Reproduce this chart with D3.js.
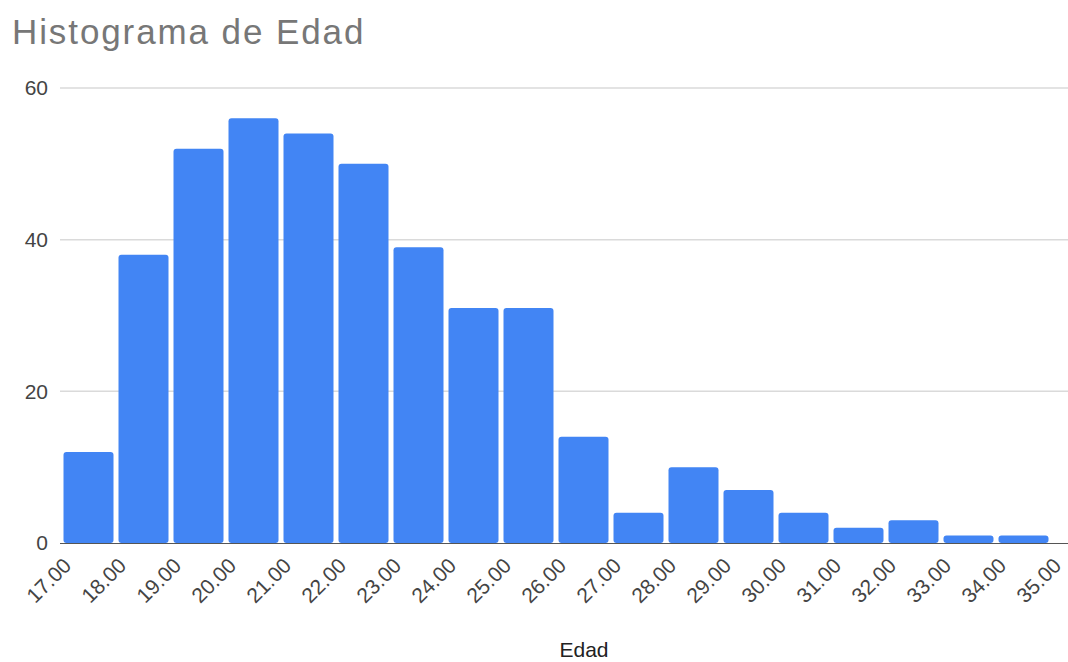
<!DOCTYPE html>
<html>
<head>
<meta charset="utf-8">
<script src="https://cdn.jsdelivr.net/npm/d3@7"></script>
<style>
  html, body { margin: 0; padding: 0; background: #fff; }
  svg { display: block; font-family: "Liberation Sans", Arial, sans-serif; }
</style>
</head>
<body>
<svg id="chart" width="1068" height="662"></svg>
<script>
// Age histogram: bin start (years) and count per bin
const binStarts = [17, 18, 19, 20, 21, 22, 23, 24, 25, 26, 27, 28, 29, 30, 31, 32, 33, 34, 35];
const counts    = [12, 38, 52, 56, 54, 50, 39, 31, 31, 14, 4, 10, 7, 4, 2, 3, 1, 1, 0];
const xTickValues = [17, 18, 19, 20, 21, 22, 23, 24, 25, 26, 27, 28, 29, 30, 31, 32, 33, 34, 35, 36];
const yTickValues = [0, 20, 40, 60];
const binWidth = 1;

const svg = d3.select("#chart");
const W = 1068, H = 662;

const x = d3.scaleLinear().domain([17, 36]).range([63, 1108]);
const y = d3.scaleLinear().domain([0, 60]).range([543, 88]);

// Title
svg.append("text")
  .attr("x", 12).attr("y", 44)
  .attr("font-size", 35)
  .attr("letter-spacing", 1.9)
  .attr("fill", "#777")
  .text("Histograma de Edad");

// Horizontal gridlines
svg.append("g")
  .selectAll("line")
  .data(yTickValues.filter(v => v > 0))
  .join("line")
  .attr("x1", 60).attr("x2", W)
  .attr("y1", d => y(d)).attr("y2", d => y(d))
  .attr("stroke", "#dadada")
  .attr("stroke-width", 1.5);

// Y axis labels
const yAxis = d3.axisLeft(y).tickValues(yTickValues).tickSize(0).tickPadding(12).tickFormat(d3.format("d"));
const gy = svg.append("g").attr("transform", "translate(60,0)").call(yAxis);
gy.select(".domain").remove();
gy.selectAll("text")
  .attr("font-size", 21)
  .attr("font-family", "Liberation Sans, Arial, sans-serif")
  .attr("fill", "#444");

// Baseline
svg.append("line")
  .attr("x1", 60).attr("x2", W)
  .attr("y1", y(0) + 0.5).attr("y2", y(0) + 0.5)
  .attr("stroke", "#555")
  .attr("stroke-width", 1.2);

// Bars
svg.append("g")
  .selectAll("rect")
  .data(binStarts.map((b, i) => ({ start: b, count: counts[i] })).filter(d => d.count > 0))
  .join("rect")
  .attr("x", d => x(d.start) + 0.5)
  .attr("width", d => x(d.start + binWidth) - x(d.start) - 5)
  .attr("y", d => y(d.count))
  .attr("height", d => y(0) - y(d.count))
  .attr("rx", 3)
  .attr("fill", "#4285f4");

// X axis labels, rotated
const xAxis = d3.axisBottom(x).tickValues(xTickValues).tickSize(0).tickFormat(d3.format(".2f"));
const gx = svg.append("g").attr("transform", `translate(0,${y(0)})`).call(xAxis);
gx.select(".domain").remove();
gx.selectAll("text")
  .attr("font-size", 21)
  .attr("font-family", "Liberation Sans, Arial, sans-serif")
  .attr("fill", "#444")
  .attr("text-anchor", "end")
  .attr("y", 0)
  .attr("dy", 0)
  .attr("transform", "translate(9,24) rotate(-45)");

// X axis title
svg.append("text")
  .attr("x", 584).attr("y", 657)
  .attr("text-anchor", "middle")
  .attr("font-size", 21)
  .attr("fill", "#222")
  .text("Edad");
</script>
</body>
</html>
